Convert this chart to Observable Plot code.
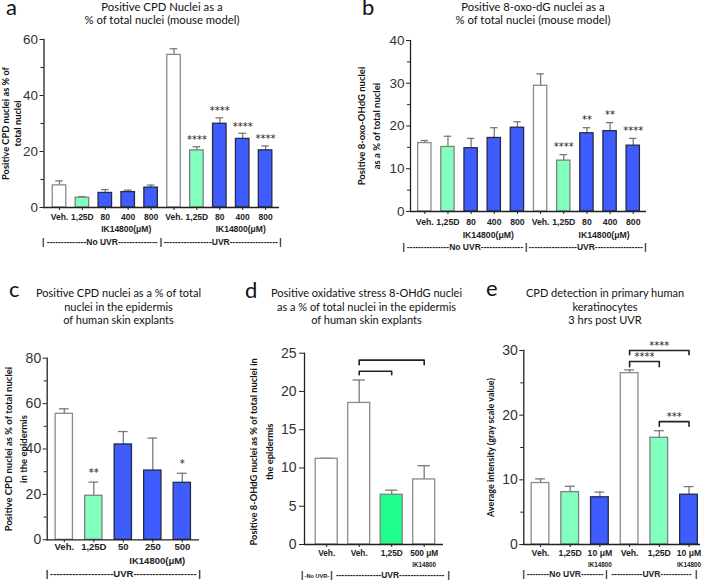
<!DOCTYPE html>
<html><head><meta charset="utf-8">
<script src="https://cdn.jsdelivr.net/npm/d3@7"></script>
<script src="https://cdn.jsdelivr.net/npm/@observablehq/plot@0.6"></script>
<style>
body{margin:0;background:#fff;}
#fig{position:relative;width:705px;height:582px;overflow:hidden;background:#fff;}
.panel{position:absolute;}
.title{position:absolute;text-align:center;font-family:Lato,sans-serif;font-size:11px;white-space:nowrap;transform:translateX(-50%);color:#111;z-index:2;}
.letter{position:absolute;font-family:Lato,sans-serif;font-size:22px;line-height:14px;color:#111;z-index:2;}
</style>
</head><body><div id="fig"></div>
<script>
// ---------------- data ----------------
const aLabels = ["Veh.","1,25D","80","400","800","Veh.","1,25D","80","400","800"];
const aMeans  = [7.9, 3.5, 5.2, 5.5, 7.1, 54.5, 20.4, 29.9, 24.5, 20.4];
const aSem    = [1.6, 0.4, 1.2, 0.7, 0.9, 2.2, 1.3, 2.1, 2.0, 1.6];
const aTreat  = ["veh","d","ik","ik","ik","veh","d","ik","ik","ik"];
const aStars  = ["","","","","","","****","****","****","****"];
const aTitle  = ["Positive CPD Nuclei as a","% of total nuclei (mouse model)"];
const aYLabel = "Positive CPD nuclei as % of\ntotal nuclei";

const bLabels = ["Veh.","1,25D","80","400","800","Veh.","1,25D","80","400","800"];
const bMeans  = [16.0, 15.1, 14.8, 17.2, 19.6, 29.4, 11.9, 18.3, 18.8, 15.4];
const bSem    = [0.6, 2.5, 2.3, 2.4, 1.4, 2.8, 1.4, 1.3, 2.0, 1.7];
const bTreat  = ["veh","d","ik","ik","ik","veh","d","ik","ik","ik"];
const bStars  = ["","","","","","","****","**","**","****"];
const bTitle  = ["Positive 8-oxo-dG nuclei as a","% of total nuclei (mouse model)"];
const bYLabel = "Positive 8-oxo-OHdG nuclei\nas a % of total nuclei";

const cLabels = ["Veh.","1,25D","50","250","500"];
const cMeans  = [55.5, 19.4, 42.0, 30.5, 25.1];
const cSem    = [2.2, 6.0, 5.7, 14.3, 4.2];
const cTreat  = ["veh","d","ik","ik","ik"];
const cStars  = ["","**","","","*"];
const cTitle  = ["Positive CPD nuclei as a % of total","nuclei in the epidermis","of human skin explants"];
const cYLabel = "Positive CPD nuclei as % of total nuclei\nin the epidermis";

const dLabels = ["Veh.","Veh.","1,25D","500 μM"];
const dMeans  = [11.2, 18.5, 6.5, 8.5];
const dSem    = [0.06, 3.0, 0.6, 1.8];
const dTreat  = ["veh","veh","d2","veh"];
const dBrackets = [{from:1,to:3,y:24.1,drop:0.6,text:""},{from:1,to:2,y:22.65,drop:0.45,text:""}];
const dTitle  = ["Positive oxidative stress 8-OHdG nuclei","as a % of total nuclei in the epidermis","of human skin explants"];
const dYLabel = "Positive 8-OHdG nuclei as % of total nuclei in\nthe epidermis";

const eLabels = ["Veh.","1,25D","10 μM","Veh.","1,25D","10 μM"];
const eMeans  = [9.5, 8.1, 7.3, 26.5, 16.5, 7.7];
const eSem    = [0.65, 0.9, 0.8, 0.5, 1.1, 1.25];
const eTreat  = ["veh","d","ik","veh","d","ik"];
const eBrackets = [{from:3,to:5,y:30,drop:0.65,text:"****"},{from:3,to:4,y:28.3,drop:0.8,text:"****"},{from:4,to:5,y:19.0,drop:0.7,text:"***"}];
const eTitle  = ["CPD detection in primary human","keratinocytes","3 hrs post UVR"];
const eYLabel = "Average intensity (gray scale value)";

// ---------------- styles ----------------
const FILL   = {veh:"#ffffff", d:"#80ffbf", d2:"#1eff8e", ik:"#3f5cff"};
const STROKE = {veh:"#8a8a8a", d:"#808080", d2:"#808080", ik:"#252a45"};
const ERR = "#7a7a7a";
const AX = "#222";
const TF = "Liberation Sans, Arial, sans-serif";

const ctx = document.createElement("canvas").getContext("2d");
function tw(s, font){ ctx.font = font; return ctx.measureText(s).width; }
function dashed(label, width, size){
  const font = `bold ${size}px Liberation Sans`;
  const lw = tw(label, font), dw = tw("-", font);
  const k = Math.max(1, Math.floor((width - lw) / dw / 2));
  return "-".repeat(k) + label + "-".repeat(k);
}

function panel(D, L){
  const n = D.labels.length;
  const rows = d3.range(n).map(i => ({i, mean:D.means[i], hi:D.means[i]+D.sem[i], treat:D.treat[i], star:D.stars ? D.stars[i] : ""}));
  const pad = 1 - L.bw / L.step;
  const r0 = L.c0 - L.step/2;
  const fl = L.axisX;
  const marks = [
    Plot.ruleX(rows, {x:"i", y1:"mean", y2:"hi", stroke:ERR, strokeWidth:1.3}),
    Plot.tickY(rows, {x:"i", y:"hi", stroke:ERR, strokeWidth:1.3, insetLeft:L.bw*0.22, insetRight:L.bw*0.22}),
    Plot.barY(rows, {x:"i", y:"mean", fill:d => FILL[d.treat], stroke:d => STROKE[d.treat], strokeWidth:1.3}),
    Plot.ruleY([0], {stroke:AX, strokeWidth:1.3}),
    Plot.frame({anchor:"left", stroke:AX, strokeWidth:1.3}),
    Plot.axisY({ticks:L.majors, tickSize:L.tickSize, tickPadding:L.tickPad, label:null, fontSize:L.yfs, fontFamily:TF, fill:"#333", stroke:AX}),
    Plot.axisX({tickSize:3, tickFormat:() => "", label:null, stroke:AX}),
    Plot.text(rows, {x:"i", frameAnchor:"bottom", dy:L.xly, text:d => D.labels[d.i], fontWeight:"bold", fontSize:L.xfs, fontFamily:TF, fill:"#222"}),
    Plot.text([D.ylabel], {frameAnchor:"left", textAnchor:"middle", lineAnchor:"middle", rotate:-90, dx:L.ylx - fl, dy:L.yldy || 0, lineHeight:L.ylh, fontWeight:"bold", fontSize:L.ylfs, fontFamily:"Lato, sans-serif", fill:"#111"})
  ];
  if (L.minors) marks.push(Plot.axisY({ticks:L.minors, tickSize:3, tickFormat:() => "", label:null, stroke:AX}));
  if (D.stars) marks.push(Plot.text(rows.filter(d => d.star), {x:"i", y:"hi", dy:L.stardy, text:"star", fontFamily:"DejaVu Sans, sans-serif", fontSize:10, fill:"#222"}));
  if (D.ik) marks.push(Plot.text(D.ik.at, {x:d => d, frameAnchor:"bottom", dy:L.ikdy, dx:L.ikdx || 0, text:() => D.ik.text, fontWeight:"bold", fontSize:L.ikfs, fontFamily:TF, fill:"#222"}));
  if (D.brackets){
    D.brackets.forEach((b, k) => {
      const pts = [{x:b.from, y:b.y-b.drop}, {x:b.from, y:b.y}, {x:b.to, y:b.y}, {x:b.to, y:b.y-b.drop}];
      marks.push(Plot.line(pts, {x:"x", y:"y", stroke:AX, strokeWidth:1.6}));
      if (b.text) marks.push(Plot.text([b], {x:"from", y:"y", dx:(b.to-b.from)*L.step/2, dy:-4.5, text:"text", fontFamily:"DejaVu Sans, sans-serif", fontSize:10, fill:"#222"}));
    });
  }
  // group line  |----label----|----label----|
  const gb = L.groups.bounds;
  gb.forEach(b => marks.push(Plot.text(["|"], {frameAnchor:"bottom-left", textAnchor:"middle", dx:b - fl, dy:L.gdy, fontWeight:"bold", fontSize:L.gfs, fontFamily:TF, fill:"#222"})));
  L.groups.labels.forEach((lab, k) => {
    const w = gb[k+1] - gb[k] - 5;
    const size = (L.groups.sizes && L.groups.sizes[k]) || L.gfs;
    marks.push(Plot.text([dashed(lab, w, size)], {frameAnchor:"bottom-left", textAnchor:"middle", dx:(gb[k]+gb[k+1])/2 - fl, dy:L.gdy, fontWeight:"bold", fontSize:size, fontFamily:TF, fill:"#222"}));
  });
  const svg = Plot.plot({
    width:L.w, height:L.h,
    marginLeft:fl, marginRight:L.w - L.axisEnd, marginTop:L.yTop, marginBottom:L.h - L.yBottom,
    x:{type:"band", domain:d3.range(n), range:[r0, r0 + n*L.step], paddingInner:pad, paddingOuter:pad/2, round:false},
    y:{domain:[0, L.yMax]},
    color:{type:"identity"},
    style:{background:"transparent", overflow:"visible", fontFamily:TF},
    marks
  });
  const div = document.createElement("div");
  div.className = "panel";
  div.style.left = L.left + "px"; div.style.top = L.top + "px";
  div.style.width = L.w + "px"; div.style.height = L.h + "px";
  div.appendChild(svg);
  document.getElementById("fig").appendChild(div);
}

function addTitle(lines, cx, top, lh, fs){
  const t = document.createElement("div");
  t.className = "title";
  t.style.left = cx + "px"; t.style.top = top + "px"; t.style.lineHeight = lh + "px";
  if (fs) t.style.fontSize = fs + "px";
  t.innerHTML = lines.map(s => s.replace(/&/g,"&amp;").replace(/</g,"&lt;")).join("<br>");
  document.getElementById("fig").appendChild(t);
}
function addLetter(ch, x, top){
  const t = document.createElement("div");
  t.className = "letter"; t.textContent = ch;
  t.style.left = x + "px"; t.style.top = top + "px";
  document.getElementById("fig").appendChild(t);
}

panel({labels:aLabels, means:aMeans, sem:aSem, treat:aTreat, stars:aStars, ylabel:aYLabel, ik:{at:[3,8], text:"IK14800(μM)"}},
  {left:0, top:0, w:350, h:290, axisX:43.5, axisEnd:279, yTop:39, yBottom:207, yMax:60,
   majors:[0,20,40,60], minors:[10,30,50], tickSize:4, tickPad:2, yfs:13.5,
   c0:59, step:22.9, bw:13.5, xly:12, xfs:8.5, ikdy:24, ikfs:8.5, ikdx:-2, stardy:-7,
   ylx:11, ylh:1.26, ylfs:9.3,
   gdy:37, gfs:8.5, groups:{bounds:[42.7,160.5,280], labels:["No UVR","UVR"]}});

panel({labels:bLabels, means:bMeans, sem:bSem, treat:bTreat, stars:bStars, ylabel:bYLabel, ik:{at:[3,8], text:"IK14800(μM)"}},
  {left:350, top:0, w:355, h:290, axisX:60, axisEnd:296, yTop:40, yBottom:211, yMax:40,
   majors:[0,10,20,30,40], minors:[5,15,25,35], tickSize:4, tickPad:2, yfs:13.5,
   c0:74.3, step:23.16, bw:13.3, xly:13.5, xfs:8.7, ikdy:26.5, ikfs:8.7, ikdx:-6, stardy:-8,
   ylx:17.5, ylh:1.55, ylfs:9.5,
   gdy:38.5, gfs:8.5, groups:{bounds:[53.3,175.7,295], labels:["No UVR","UVR"]}});

panel({labels:cLabels, means:cMeans, sem:cSem, treat:cTreat, stars:cStars, ylabel:cYLabel, ik:{at:[3], text:"IK14800(μM)"}},
  {left:0, top:290, w:235, h:292, axisX:46.7, axisEnd:199, yTop:67.7, yBottom:249.3, yMax:80,
   majors:[0,20,40,60,80], minors:[10,30,50,70], tickSize:4, tickPad:2, yfs:14,
   c0:63.8, step:29.5, bw:17.3, xly:10.5, xfs:9.5, ikdy:24, ikfs:9.5, ikdx:4.5, stardy:-9,
   ylx:14.5, ylh:1.5, ylfs:9.5,
   gdy:37.4, gfs:9.5, groups:{bounds:[46.7,199], labels:["UVR"]}});

panel({labels:dLabels, means:dMeans, sem:dSem, treat:dTreat, ylabel:dYLabel, brackets:dBrackets, ik:{at:[3], text:"IK14800"}},
  {left:235, top:290, w:235, h:292, axisX:69, axisEnd:208, yTop:62.7, yBottom:254, yMax:25,
   majors:[0,5,10,15,20,25], minors:null, tickSize:5, tickPad:3, yfs:14,
   c0:91.2, step:32.5, bw:22, xly:11.7, xfs:8.3, ikdy:22, ikfs:6.3, stardy:-8,
   ylx:24.5, yldy:3, ylh:1.65, ylfs:9.3,
   gdy:33.3, gfs:8.5, groups:{bounds:[66.7,96,213.3], labels:["No UVR","UVR"], sizes:[5.6,8.5]}});

panel({labels:eLabels, means:eMeans, sem:eSem, treat:eTreat, ylabel:eYLabel, brackets:eBrackets, ik:{at:[2,5], text:"IK14800"}},
  {left:470, top:290, w:235, h:292, axisX:53.3, axisEnd:230, yTop:60, yBottom:254, yMax:30,
   majors:[0,10,20,30], minors:[5,15,25], tickSize:4, tickPad:2, yfs:14,
   c0:70, step:29.7, bw:17.7, xly:11.7, xfs:8.7, ikdy:22.7, ikfs:6.3, stardy:-8,
   ylx:20, ylh:1.3, ylfs:9,
   gdy:32.7, gfs:8.5, groups:{bounds:[53.3,136,225.7], labels:["No UVR","UVR"]}});

addTitle(aTitle, 162, -0.5, 13.3, 11.3);
addTitle(bTitle, 533, -0.5, 13.3, 11.3);
addTitle(cTitle, 118.5, 286.2, 13.6);
addTitle(dTitle, 366.5, 286.3, 13.4);
addTitle(eTitle, 605, 286.2, 13.5);
addLetter("a", 6, 0);
addLetter("b", 362, 0);
addLetter("c", 9, 282);
addLetter("d", 245, 282.5);
addLetter("e", 486, 280.5);
</script>
</body></html>
